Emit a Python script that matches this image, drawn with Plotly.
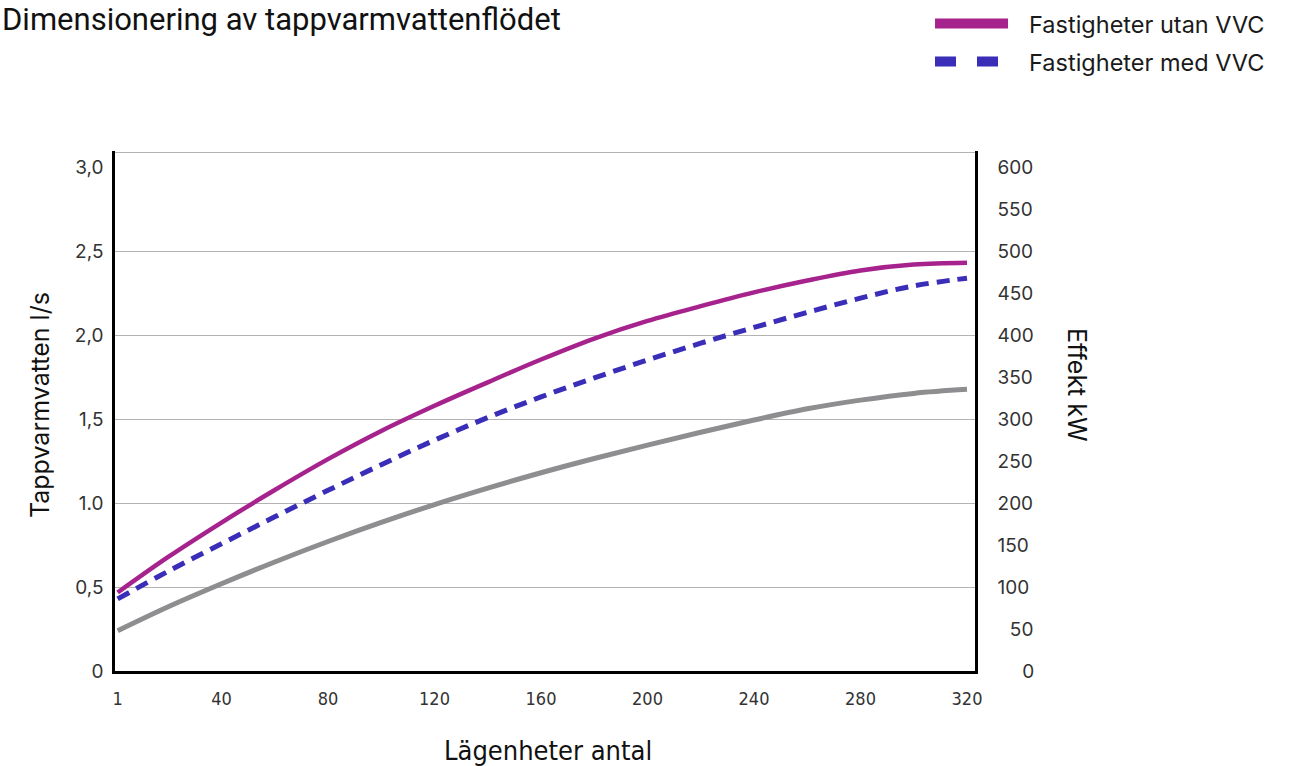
import plotly.graph_objects as go

# ---- data ----
lagenheter = [1, 20, 40, 60, 80, 100, 120, 140, 160, 180, 200, 220, 240, 260, 280, 300, 320]
utan_vvc = [0.468, 0.680, 0.885, 1.079, 1.263, 1.431, 1.581, 1.721, 1.857, 1.982, 2.087,
            2.175, 2.257, 2.328, 2.388, 2.423, 2.434]
med_vvc = [0.430, 0.595, 0.758, 0.919, 1.077, 1.230, 1.376, 1.511, 1.634, 1.747, 1.854,
           1.954, 2.048, 2.138, 2.223, 2.296, 2.342]
grey_curve = [0.240, 0.383, 0.520, 0.650, 0.772, 0.886, 0.992, 1.090, 1.182, 1.267, 1.347,
              1.423, 1.496, 1.563, 1.615, 1.655, 1.679]

x_ticks = [1, 40, 80, 120, 160, 200, 240, 280, 320]
left_ticks = [0, 0.5, 1.0, 1.5, 2.0, 2.5, 3.0]
left_tick_text = ["0", "0,5", "1.0", "1,5", "2,0", "2,5", "3,0"]
grid_vals = [0.5, 1.0, 1.5, 2.0, 2.5, 3.09]
right_ticks = [0, 50, 100, 150, 200, 250, 300, 350, 400, 450, 500, 550, 600]

PURPLE = "#a6238e"
BLUE = "#3a2db8"
GREY = "#8e8e91"
TICK_FONT = dict(family="Inter, Roboto, sans-serif", size=19, color="#333333")

fig = go.Figure()

fig.add_trace(go.Scatter(x=lagenheter, y=grey_curve, mode="lines",
                         line=dict(color=GREY, width=5, shape="spline"),
                         showlegend=False, hoverinfo="skip"))
fig.add_trace(go.Scatter(x=lagenheter, y=med_vvc, mode="lines",
                         line=dict(color=BLUE, width=5, dash="13px,8px", shape="spline"),
                         showlegend=False, name="Fastigheter med VVC"))
fig.add_trace(go.Scatter(x=lagenheter, y=utan_vvc, mode="lines",
                         line=dict(color=PURPLE, width=4.5, shape="spline"),
                         showlegend=False, name="Fastigheter utan VVC"))

# legend-only entries (thicker samples like in the reference)
fig.add_trace(go.Scatter(x=[None], y=[None], mode="lines", name="\u2002\u2009Fastigheter utan VVC",
                         line=dict(color=PURPLE, width=10), legend="legend"))
fig.add_trace(go.Scatter(x=[None], y=[None], mode="lines", name="\u2002\u2009Fastigheter med VVC",
                         line=dict(color=BLUE, width=10, dash="21px,21px"), legend="legend2"))

# invisible axis carrying grid lines
fig.add_trace(go.Scatter(x=[None], y=[None], yaxis="y3", showlegend=False))
# right axis (kW)
fig.add_trace(go.Scatter(x=[None], y=[None], yaxis="y2", showlegend=False))

legend_common = dict(font=dict(family="Inter, Roboto, sans-serif", size=23.5, color="#1a1a1a"),
                     bgcolor="rgba(0,0,0,0)", itemwidth=73, xanchor="left", yanchor="top",
                     itemclick=False, itemdoubleclick=False)

fig.update_layout(
    width=1310, height=766,
    margin=dict(l=115, r=335, t=151, b=95, autoexpand=False),
    paper_bgcolor="white", plot_bgcolor="white",
    showlegend=True,
    legend=dict(x=0.9477, y=1.287, **legend_common),
    legend2=dict(x=0.9477, y=1.214, **legend_common),
    xaxis=dict(range=[0, 323], tickvals=x_ticks, ticktext=[str(v) for v in x_ticks],
               showgrid=False, zeroline=False, showline=True, linecolor="black", linewidth=2.5,
               ticks="", ticklabelstandoff=10,
               tickfont=dict(family="Liberation Sans Narrow, DejaVu Sans Condensed, sans-serif",
                             size=18, color="#333333")),
    yaxis=dict(range=[0, 3.1], tickvals=left_ticks, ticktext=left_tick_text, showgrid=False,
               zeroline=False, showline=True, linecolor="black", linewidth=2.5, ticks="",
               ticklabelstandoff=5, tickfont=TICK_FONT),
    yaxis2=dict(range=[0, 620], overlaying="y", side="right", tickvals=right_ticks,
                ticktext=["\u2007" * (3 - len(str(v))) + str(v) for v in right_ticks],
                showgrid=False, zeroline=False, showline=True, linecolor="black", linewidth=2.5,
                ticks="", ticklabelstandoff=16, tickfont=TICK_FONT),
    yaxis3=dict(range=[0, 3.1], overlaying="y", tickvals=grid_vals, showticklabels=False,
                showgrid=True, gridcolor="#b3b3b3", gridwidth=1, zeroline=False, showline=False),
    annotations=[
        dict(text="Dimensionering av tappvarmvattenflödet", xref="paper", yref="paper",
             x=-0.1337, y=1.252, xanchor="left", yanchor="middle", showarrow=False,
             font=dict(family="Roboto, sans-serif", size=31, color="#111111")),
        dict(text="Tappvarmvatten l/s", xref="paper", yref="paper", x=-0.0872, y=0.5115,
             xanchor="center", yanchor="middle", textangle=-90, showarrow=False,
             font=dict(family="Inter, Roboto, sans-serif", size=25, color="#111111")),
        dict(text="Effekt kW", xref="paper", yref="paper", x=1.1186, y=0.55,
             xanchor="center", yanchor="middle", textangle=90, showarrow=False,
             font=dict(family="Inter, Roboto, sans-serif", size=25, color="#111111")),
        dict(text="Lägenheter antal", xref="paper", yref="paper", x=0.5035, y=-0.152,
             xanchor="center", yanchor="middle", showarrow=False,
             font=dict(family="Liberation Sans Narrow, DejaVu Sans Condensed, sans-serif",
                       size=27, color="#111111")),
    ],
)

fig.write_html("out.html", config={"displayModeBar": False},
               post_script="document.body.style.margin='0';")
